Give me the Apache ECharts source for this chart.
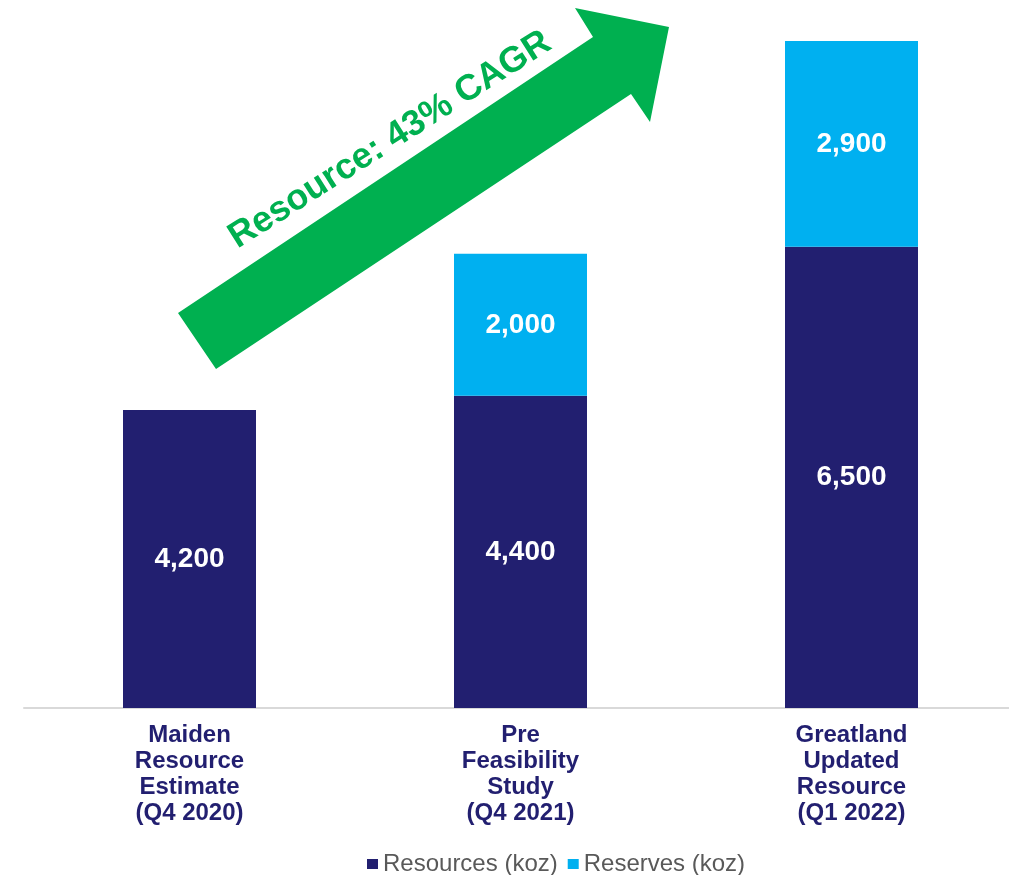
<!DOCTYPE html>
<html>
<head>
<meta charset="utf-8">
<title>Resource growth</title>
<script src="https://cdn.jsdelivr.net/npm/echarts@6/dist/echarts.min.js"></script>
<style>
  html, body { margin: 0; padding: 0; background: #ffffff; }
  #chart { width: 1009px; height: 875px; }
</style>
</head>
<body>
<div id="chart"></div>
<script>
// Categories (stage of the project)
const categories = [
  'Maiden\nResource\nEstimate\n(Q4 2020)',
  'Pre\nFeasibility\nStudy\n(Q4 2021)',
  'Greatland\nUpdated\nResource\n(Q1 2022)'
];
// Resources and reserves, thousand ounces
const resources = [4200, 4400, 6500];
const reserves = [null, 2000, 2900];
const seriesNames = ['Resources (koz)', 'Reserves (koz)'];
const arrowText = 'Resource: 43% CAGR';

const NAVY = '#221F70';
const SKY = '#00B0F0';
const GREEN = '#00B050';
const FONT = '"Liberation Sans", Arial, sans-serif';

const chart = echarts.init(document.getElementById('chart'));

const valueLabel = {
  show: true,
  position: 'inside',
  color: '#ffffff',
  fontFamily: FONT,
  fontWeight: 'bold',
  fontSize: 28,
  formatter: p => p.value == null ? '' : p.value.toLocaleString('en-US')
};

chart.setOption({
  animation: false,
  backgroundColor: '#ffffff',
  // plot area runs a little past the right edge so the third bar sits further right
  grid: { left: 24, width: 993, top: 41, bottom: 167, containLabel: false, outerBoundsMode: 'none' },
  xAxis: {
    type: 'category',
    data: categories,
    axisLine: { show: true, lineStyle: { color: '#D9D9D9', width: 2 } },
    axisTick: { show: false },
    axisLabel: {
      interval: 0,
      margin: 14,
      color: NAVY,
      fontFamily: FONT,
      fontWeight: 'bold',
      fontSize: 24,
      lineHeight: 26
    }
  },
  yAxis: {
    type: 'value',
    min: 0,
    max: 9400,
    show: false,
    splitLine: { show: false }
  },
  legend: {
    top: 847,
    left: 362,
    itemWidth: 11,
    itemHeight: 10,
    itemGap: 10,
    icon: 'rect',
    textStyle: { color: '#595959', fontFamily: FONT, fontSize: 24, padding: [0, 0, 0, 0] },
    data: seriesNames
  },
  series: [
    {
      name: seriesNames[0],
      type: 'bar',
      stack: 'total',
      barWidth: 133,
      data: resources,
      itemStyle: { color: NAVY },
      label: valueLabel
    },
    {
      name: seriesNames[1],
      type: 'bar',
      stack: 'total',
      barWidth: 133,
      data: reserves,
      itemStyle: { color: SKY },
      label: valueLabel
    }
  ],
  graphic: [
    {
      type: 'polygon',
      z: 10,
      shape: {
        points: [
          [178, 313], [216, 369], [631, 94], [650, 122],
          [669, 27], [575, 8], [593, 37]
        ]
      },
      style: { fill: GREEN }
    },
    {
      type: 'text',
      z: 11,
      x: 390,
      y: 140,
      rotation: 32.5 * Math.PI / 180,
      style: {
        text: arrowText,
        fill: GREEN,
        font: 'bold 36px ' + FONT,
        align: 'center',
        verticalAlign: 'middle'
      }
    }
  ]
});
</script>
</body>
</html>
